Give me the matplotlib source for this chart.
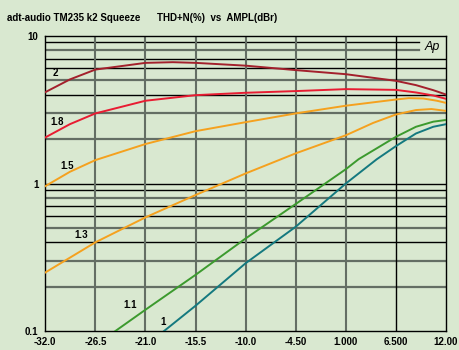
import numpy as np
import matplotlib
matplotlib.use("Agg")
import matplotlib.pyplot as plt

# dBr steps on the x axis
x_ticks = [-32.0, -26.5, -21.0, -15.5, -10.0, -4.5, 1.0, 6.5, 12.0]
x_labels = ["-32.0", "-26.5", "-21.0", "-15.5", "-10.0", "-4.50", "1.000", "6.500", "12.00"]

# THD+N (%) curves, one per squeeze setting
x_k2 = [-32, -29.3, -26.5, -21, -18, -15.5, -10, -4.5, 1, 6.5, 8.7, 10.6, 12]
y_k2 = [4.15, 5.06, 5.9, 6.55, 6.62, 6.55, 6.27, 5.85, 5.49, 4.95, 4.63, 4.28, 4.0]

x_k18 = [-32, -29.3, -26.5, -21, -15.5, -10, -4.5, 1, 6.5, 8.7, 10.6, 12]
y_k18 = [2.05, 2.52, 2.98, 3.63, 3.96, 4.11, 4.22, 4.35, 4.3, 4.13, 3.94, 3.74]

x_k15 = [-32, -29.3, -26.5, -21, -15.5, -10, -4.5, 1, 6.5, 7.9, 9.5, 11, 12]
y_k15 = [0.96, 1.2, 1.44, 1.85, 2.26, 2.6, 2.98, 3.36, 3.7, 3.78, 3.76, 3.63, 3.51]

x_k13 = [-32, -26.5, -21, -15.5, -10, -4.5, 1, 4.0, 6.5, 8.7, 10.4, 12]
y_k13 = [0.25, 0.40, 0.59, 0.836, 1.17, 1.6, 2.12, 2.57, 2.93, 3.14, 3.19, 3.1]

x_k11 = [-24.35, -21, -15.5, -10, -4.5, 1, 2.4, 6.5, 8.7, 10.6, 12]
y_k11 = [0.1, 0.14, 0.241, 0.425, 0.727, 1.25, 1.46, 2.07, 2.42, 2.62, 2.69]

x_k1 = [-19, -15.5, -10, -4.5, 1, 4.4, 6.5, 8.7, 10.6, 12]
y_k1 = [0.1, 0.149, 0.289, 0.51, 1.0, 1.46, 1.79, 2.18, 2.42, 2.52]

bg = "#d9e8d0"
gray = "#646e64"
font = ["Liberation Sans", "DejaVu Sans"]

fig = plt.figure(figsize=(4.6, 3.5), dpi=100, facecolor=bg)
ax = fig.add_axes([0.0985, 0.0534, 0.8711, 0.8446], facecolor=bg)
ax.set_yscale("log")
ax.set_xlim(-32, 12)
ax.set_ylim(0.1, 10)

# grid: minor decades, some lines black, some grey
black_mult = [9, 7, 6, 4]
gray_mult = [8, 5, 3, 2]
for dec in [0.1, 1]:
    for m in black_mult:
        xm = 0.932 if (dec == 1 and m == 9) else 1
        ax.axhline(m * dec, xmax=xm, color="black", lw=1.0, zorder=1)
    for m in gray_mult:
        xm = 0.932 if (dec == 1 and m == 8) else 1
        ax.axhline(m * dec, xmax=xm, color=gray, lw=1.6, zorder=1)
ax.axhline(1, color="black", lw=1.0, zorder=1)
for xv in x_ticks[1:-1]:
    col = "black" if xv == 6.5 else gray
    ax.axvline(xv, color=col, lw=1.0 if col == "black" else 1.5, zorder=1)

ax.plot(x_k2, y_k2, color="#a3202c", lw=1.4, zorder=3)
ax.plot(x_k18, y_k18, color="#e81c32", lw=1.4, zorder=3)
ax.plot(x_k15, y_k15, color="#f5a11e", lw=1.4, zorder=3)
ax.plot(x_k13, y_k13, color="#f5a11e", lw=1.4, zorder=3)
ax.plot(x_k11, y_k11, color="#3c9a2e", lw=1.4, zorder=3)
ax.plot(x_k1, y_k1, color="#14797f", lw=1.4, zorder=3)

lab = dict(fontsize=7, fontweight="bold", family=font, ha="center", va="center", zorder=4)
ax.text(-30.9, 5.58, "2", **lab)
ax.text(-30.7, 2.6, "1.8", **lab)
ax.text(-29.6, 1.31, "1.5", **lab)
ax.text(-28.1, 0.447, "1.3", **lab)
ax.text(-22.65, 0.151, "1.1", **lab)
ax.text(-19.05, 0.116, "1", **lab)

ax.text(0.966, 0.962, "Ap", transform=ax.transAxes, fontsize=9, style="italic",
        family=font, ha="center", va="center")

ax.set_xticks(x_ticks)
ax.set_xticklabels(x_labels)
ax.set_yticks([0.1, 1, 10])
ax.set_yticklabels(["0.1", "1", "10"])
ax.yaxis.set_minor_locator(matplotlib.ticker.NullLocator())
ax.tick_params(length=0, labelsize=7, pad=4)
ax.tick_params(axis="y", pad=5)
for t in ax.get_xticklabels() + ax.get_yticklabels():
    t.set_fontweight("bold")
    t.set_family(font)
for s in ax.spines.values():
    s.set_color("black")
    s.set_linewidth(1.0)

fig.text(0.0152, 0.9486, "adt-audio TM235 k2 Squeeze", fontsize=7, fontweight="bold",
         family=font, va="center")
fig.text(0.341, 0.9486, "THD+N(%)  vs  AMPL(dBr)", fontsize=7, fontweight="bold",
         family=font, va="center")

fig.savefig("out.png", dpi=100, facecolor=bg)
